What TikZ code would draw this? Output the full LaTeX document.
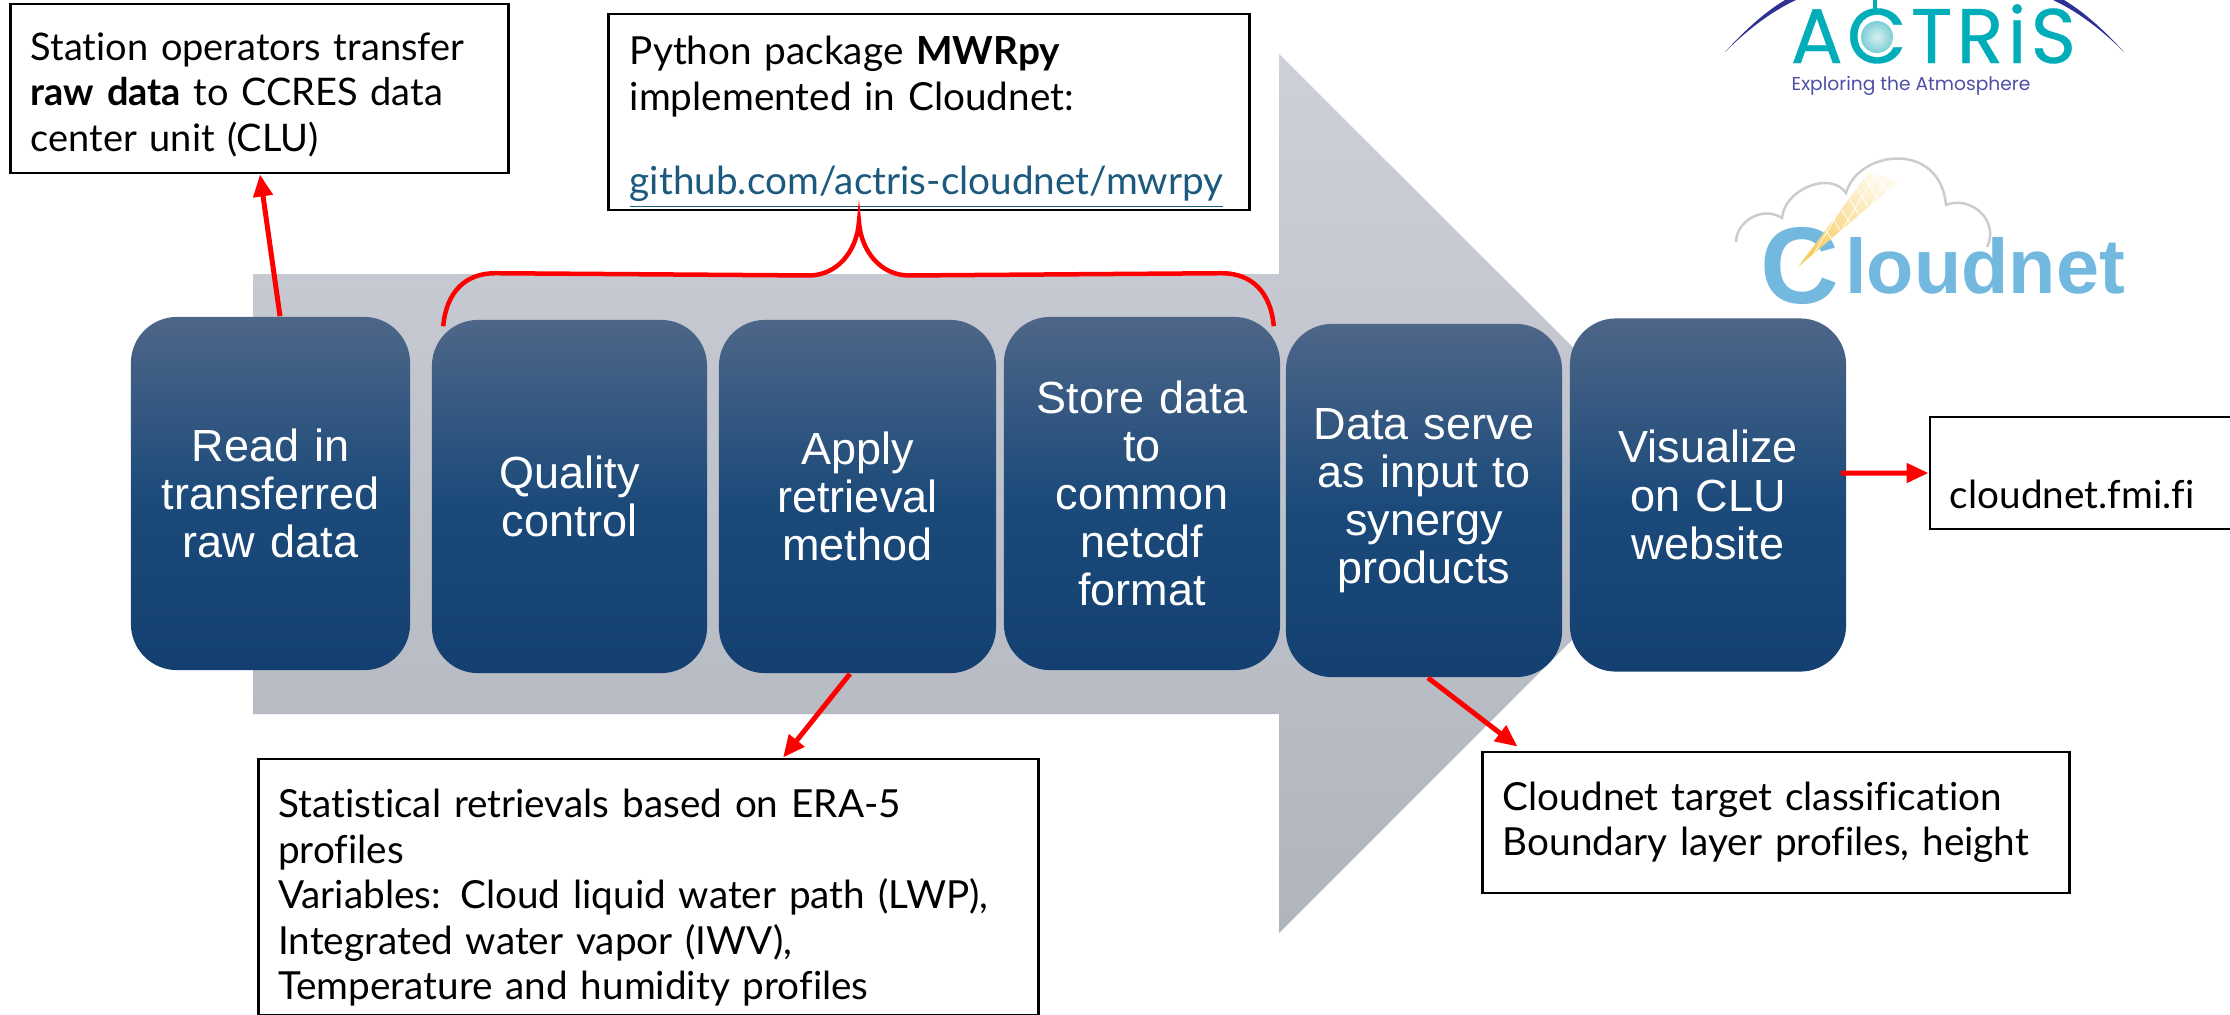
\documentclass[tikz,border=0pt]{standalone}
\usepackage{fontspec}
\setmainfont{Lato}[Ligatures=NoCommon]
\newfontfamily\arialfont{Liberation Sans}
\newfontfamily\popfont{Poppins}
\usetikzlibrary{arrows.meta,calc}
\definecolor{redline}{HTML}{FF0000}
\definecolor{linkblue}{HTML}{1B5A7E}
\definecolor{tealc}{HTML}{00ADB9}
\definecolor{navyc}{HTML}{2E3192}
\definecolor{purpc}{HTML}{4D4FA5}
\definecolor{cloudblue}{HTML}{72B8DF}
\definecolor{cloudgrey}{HTML}{CCCCCC}
\definecolor{steptop}{HTML}{4E6688}
\definecolor{stepmid}{HTML}{1B4A7A}
\definecolor{stepbot}{HTML}{134070}
\definecolor{arrowtop}{HTML}{CDD0D9}
\definecolor{arrowbot}{HTML}{B0B4BC}
\definecolor{beamlow}{HTML}{F7CB60}
\definecolor{beamhigh}{HTML}{FFF9EA}
\definecolor{ringlight}{HTML}{D8F0F2}
\definecolor{ringdark}{HTML}{7CCFD6}
\pgfdeclareverticalshading{stepshade}{100bp}{
  color(0bp)=(stepbot);
  color(25bp)=(stepbot);
  color(49bp)=(stepmid);
  color(75bp)=(steptop);
  color(100bp)=(steptop)}
\tikzset{
  x=0.01cm,y=-0.01cm,
  stepbox/.style={rounded corners=0.46cm,shading=stepshade,draw=none,
    minimum width=#1,minimum height=3.53cm,inner sep=0pt,text width=#1-0.3cm,align=center,
    text=white,font=\arialfont\fontsize{12.8pt}{13.7pt}\selectfont},
  notebox/.style={draw=black,line width=0.028cm,fill=white,inner sep=0pt,align=left,
    font=\fontsize{11pt}{12.9pt}\selectfont},
  redarrow/.style={draw=redline,line width=0.05cm,-{Triangle[length=0.22cm,width=0.19cm]}},
  redcurve/.style={draw=redline,line width=0.045cm},
}
\newcommand{\firstgap}[1]{\rule{0pt}{#1}}
\begin{document}
\begin{tikzpicture}
\useasboundingbox (0,0) rectangle (2230,1014);
% big arrow
\shade[top color=arrowtop,bottom color=arrowbot]
  (253,274) -- (1279,274) -- (1279,54) -- (1719,493) -- (1279,933) -- (1279,714) -- (253,714) -- cycle;
% steps
\node[stepbox=2.79cm] (b1) at (270.5,493.5) {Read in\\transferred\\raw data};
\node[stepbox=2.75cm] (b2) at (569.5,496.5) {Quality\\control};
\node[stepbox=2.77cm] (b3) at (857.5,496.5) {Apply\\retrieval\\method};
\node[stepbox=2.76cm] (b4) at (1142,493.5) {Store data\\to\\common\\netcdf\\format};
\node[stepbox=2.76cm] (b5) at (1424,500.5) {Data serve\\as input to\\synergy\\products};
\node[stepbox=2.76cm] (b6) at (1708,495) {Visualize\\on CLU\\website};
% notes
\node[notebox,minimum width=4.97cm,minimum height=1.69cm,text width=4.57cm,font=\fontsize{10.8pt}{12.9pt}\selectfont] (n1) at (259.5,88.5)
  {\firstgap{11.4pt}Station operators transfer\\\textbf{raw data} to CCRES data\\center unit (CLU)};
\node[notebox,minimum width=6.40cm,minimum height=1.96cm,text width=5.98cm] (n2) at (929,112)
  {\firstgap{14.1pt}Python package \textbf{MWRpy}\\implemented in Cloudnet:\\[11.2pt]\textcolor{linkblue}{\underline{github.com/actris-cloudnet/mwrpy}}};
\node[notebox,minimum width=7.79cm,minimum height=2.56cm,text width=7.4cm] (n3) at (648.5,887)
  {\firstgap{14.2pt}Statistical retrievals based on ERA-5\\profiles\\Variables: Cloud liquid water path (LWP),\\Integrated water vapor (IWV),\\Temperature and humidity profiles};
\node[notebox,minimum width=5.86cm,minimum height=1.41cm,text width=5.46cm] (n4) at (1776,822.5)
  {Cloudnet target classification\\Boundary layer profiles, height\\[6pt]};
\node[notebox,minimum width=3.10cm,minimum height=1.12cm,text width=2.7cm] (n5) at (2085,473)
  {\firstgap{20.5pt}cloudnet.fmi.fi};
% connectors
\draw[redarrow] ([xshift=0.095cm]b1.north) -- ([xshift=0.005cm]n1.south);
\draw[redarrow] ([xshift=-0.075cm]b3.south) -- ([xshift=1.345cm]n3.north);
\draw[redarrow] ([xshift=0.04cm]b5.south) -- ([xshift=0.36cm,yshift=0.04cm]n4.north west);
\draw[redarrow] ([yshift=0.22cm,xshift=-0.06cm]b6.east) -- (n5.west);
\coordinate (bl) at ([xshift=0.12cm,yshift=-0.07cm]b2.north west);
\coordinate (br) at ([xshift=-0.07cm,yshift=-0.10cm]b4.north east);
\coordinate (ba) at ([xshift=-0.70cm,yshift=-0.10cm]n2.south);
\draw[redcurve] (bl) .. controls ($(bl)+(3,-34)$) and ($(bl)+(22,-53)$) .. ($(bl)+(52,-53)$)
  -- ($(ba)+(-50,54)$) .. controls ($(ba)+(-22,54)$) and ($(ba)+(-2,30)$) .. (ba)
  .. controls ($(ba)+(2,30)$) and ($(ba)+(22,54)$) .. ($(ba)+(50,54)$)
  -- ($(br)+(-52,-53)$) .. controls ($(br)+(-22,-53)$) and ($(br)+(-3,-34)$) .. (br);
% ACTRiS logo
\fill[navyc] (1725,52) .. controls (1745,32) and (1770,12) .. (1796,0) -- (1785,0) .. controls (1765,12) and (1745,30) .. cycle;
\fill[navyc] (2124,52) .. controls (2104,32) and (2079,12) .. (2053,0) -- (2064,0) .. controls (2084,12) and (2104,30) .. cycle;
\node[inner sep=0pt,anchor=base west,text=tealc,font=\popfont\fontsize{22pt}{22pt}\selectfont\addfontfeature{LetterSpace=5.2,FakeBold=0.4}] (actris) at (1790,63) {ACTRiS};
\fill[tealc] (1873,0) rectangle (1877,10);
\shade[inner color=ringlight,outer color=ringdark] (1877,37) circle (0.16cm);
\node[inner sep=0pt,anchor=base west,text=purpc,font=\popfont\fontsize{5.3pt}{6pt}\selectfont] (explore) at (1791,90) {Exploring the Atmosphere};
% Cloudnet logo
\draw[cloudgrey,line width=0.025cm] (1736,242) .. controls (1736,222) and (1762,205) .. (1782,218)
  .. controls (1784,190) and (1830,170) .. (1846,193)
  .. controls (1858,150) and (1940,140) .. (1946,205)
  .. controls (1970,195) and (2000,220) .. (1987,247);
\node[inner sep=0pt,anchor=base west,text=cloudblue,font=\arialfont\bfseries\fontsize{22pt}{22pt}\selectfont] (cloudnet) at (1760,293)
  {\raisebox{-0.10cm}{\fontsize{31pt}{31pt}\selectfont C}\hspace{0.06cm}loudnet};
\shade[bottom color=beamlow,top color=beamhigh,shading angle=-37]
  (1798,267) -- (1869,172) -- (1898,182) -- cycle;
\begin{scope}
\clip (1798,267) -- (1869,172) -- (1898,182) -- cycle;
\foreach \k in {0,...,9}{
  \draw[white,line width=0.008cm] (1790+\k*14,170) -- ++(60,100);
  \draw[white,line width=0.008cm] (1790+\k*14,270) -- ++(60,-100);
}
\end{scope}
\end{tikzpicture}
\end{document}
